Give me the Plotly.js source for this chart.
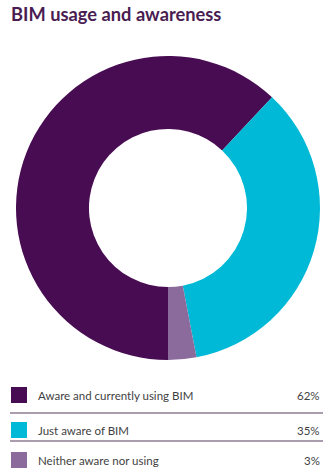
<!DOCTYPE html>
<html>
<head>
<meta charset="utf-8">
<script src="https://cdn.plot.ly/plotly-3.0.1.min.js"></script>
<style>
html,body{margin:0;padding:0;background:#fff;}
#chart{width:324px;height:471px;}
</style>
</head>
<body>
<div id="chart"></div>
<script>
var categories = ["Aware and currently using BIM", "Just aware of BIM", "Neither aware nor using"];
var values = [62, 35, 3];
var valueLabels = ["62%", "35%", "3%"];
var colors = ["#480c52", "#00b9d7", "#8a6b9c"];

var W = 324, H = 471;
function py(p) { return 1 - p / H; }
function px(p) { return p / W; }

var rowCenters = [395, 430, 460];
var separators = [413, 441];

var shapes = [];
var annotations = [];

categories.forEach(function (c, i) {
  var yc = rowCenters[i];
  shapes.push({
    type: "rect", xref: "paper", yref: "paper",
    x0: px(11), x1: px(27), y0: py(yc + 8), y1: py(yc - 8),
    fillcolor: colors[i], line: {width: 0}
  });
  annotations.push({
    xref: "paper", yref: "paper", x: px(36), y: py(yc),
    xanchor: "left", yanchor: "middle", showarrow: false,
    text: c, font: {family: "Lato, sans-serif", size: 11.5, color: "#3f3f3f"}
  });
  annotations.push({
    xref: "paper", yref: "paper", x: px(322), y: py(yc),
    xanchor: "right", yanchor: "middle", showarrow: false,
    text: valueLabels[i], font: {family: "Lato, sans-serif", size: 11.5, color: "#3f3f3f"}
  });
});
separators.forEach(function (s) {
  shapes.push({
    type: "line", xref: "paper", yref: "paper",
    x0: px(10), x1: px(323), y0: py(s), y1: py(s),
    line: {color: "#8c7d93", width: 1.3}
  });
});

var data = [{
  type: "pie",
  labels: categories,
  values: values,
  hole: 0.52,
  sort: false,
  direction: "clockwise",
  rotation: 180,
  marker: {colors: colors, line: {width: 0}},
  textinfo: "none",
  hoverinfo: "none",
  showlegend: false,
  domain: {x: [px(16), px(320)], y: [py(360), py(56)]}
}];

var layout = {
  width: W, height: H,
  margin: {l: 0, r: 0, t: 0, b: 0},
  paper_bgcolor: "#fff",
  showlegend: false,
  title: {
    text: "<b>BIM usage and awareness</b>",
    x: px(11), xanchor: "left", xref: "paper",
    y: py(15), yanchor: "middle", yref: "paper",
    font: {family: "Lato, sans-serif", size: 18.3, color: "#4a1d52"}
  },
  shapes: shapes,
  annotations: annotations
};

Plotly.newPlot("chart", data, layout, {displayModeBar: false, staticPlot: true});
</script>
</body>
</html>
